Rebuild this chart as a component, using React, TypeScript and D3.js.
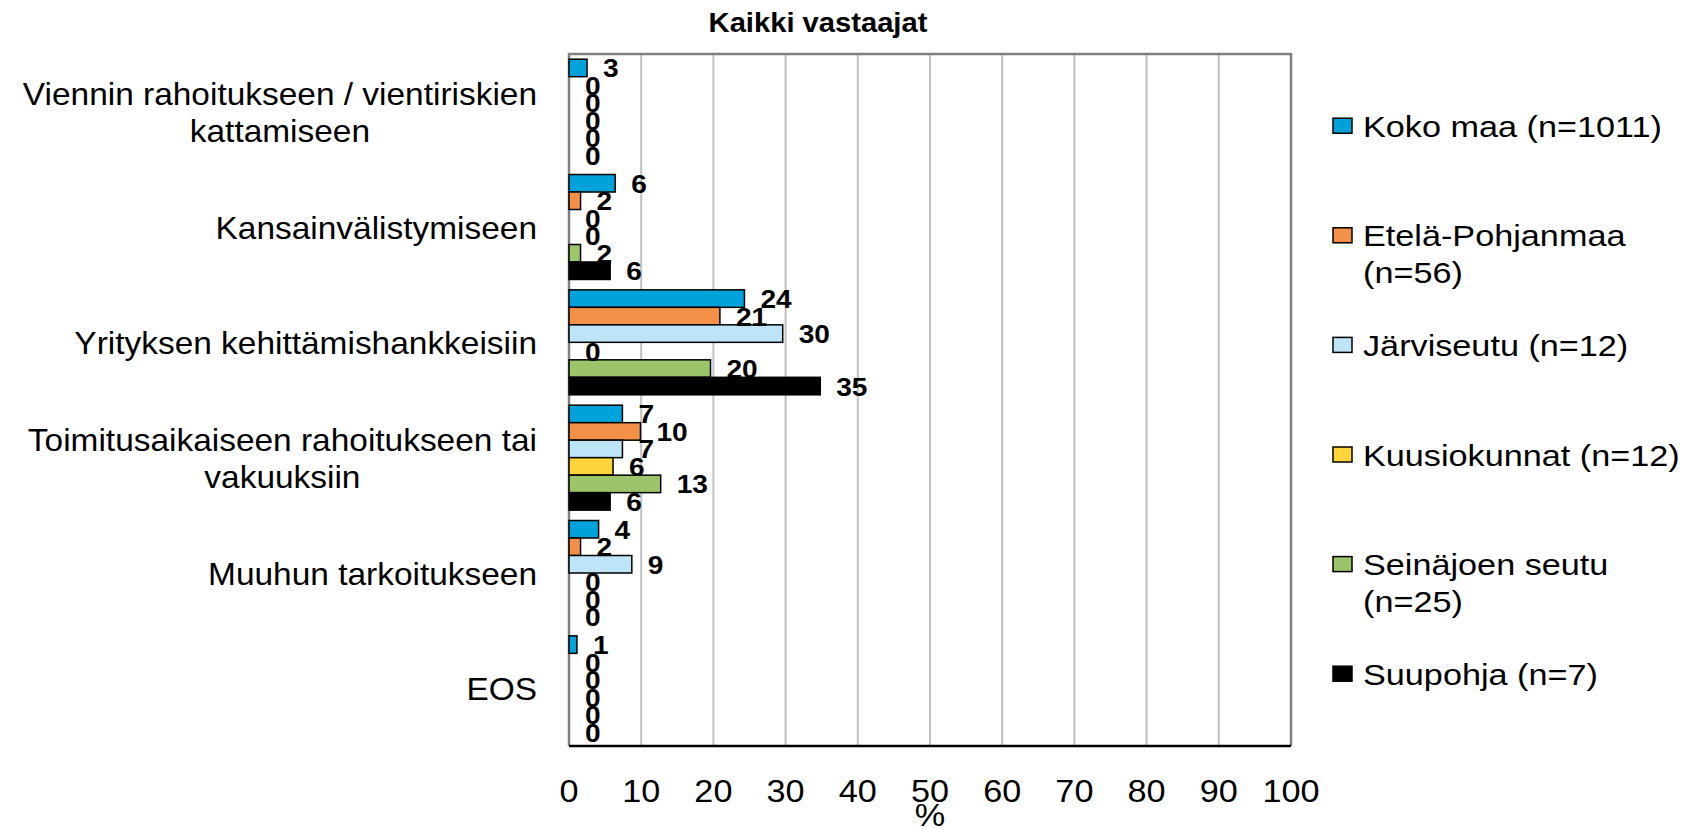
import React, { useEffect, useRef } from "react";
import * as d3 from "d3";

// chart data
const categories = [
  "Viennin rahoitukseen / vientiriskien|kattamiseen",
  "Kansainvälistymiseen",
  "Yrityksen kehittämishankkeisiin",
  "Toimitusaikaiseen rahoitukseen tai|vakuuksiin",
  "Muuhun tarkoitukseen",
  "EOS",
];
const seriesNames = [
  "Koko maa (n=1011)",
  "Etelä-Pohjanmaa|(n=56)",
  "Järviseutu (n=12)",
  "Kuusiokunnat (n=12)",
  "Seinäjoen seutu|(n=25)",
  "Suupohja (n=7)",
];
const kokoMaa = [2.5, 6.4, 24.3, 7.4, 4.1, 1.1];
const etelaPohjanmaa = [0, 1.6, 20.9, 9.9, 1.6, 0];
const jarviseutu = [0, 0, 29.6, 7.4, 8.7, 0];
const kuusiokunnat = [0, 0, 0, 6.1, 0, 0];
const seinajoenSeutu = [0, 1.6, 19.6, 12.7, 0, 0];
const suupohja = [0, 5.7, 34.8, 5.7, 0, 0];
const xTicks = [0, 10, 20, 30, 40, 50, 60, 70, 80, 90, 100];
const colors = ["#00A2DA", "#F29147", "#BDE4F7", "#FFD43A", "#9BC46B", "#000000"];

const FONT = "'Liberation Sans', Arial, sans-serif";

const App = () => {
  const svgRef = useRef<SVGSVGElement>(null);

  useEffect(() => {
    const width = 1696;
    const height = 829;
    const plot = { left: 569, right: 1291, top: 54, bottom: 746 };
    const series = [kokoMaa, etelaPohjanmaa, jarviseutu, kuusiokunnat, seinajoenSeutu, suupohja];
    const fmt = d3.format(".0f");

    const svg = d3.select(svgRef.current);
    svg.selectAll("*").remove();
    svg
      .attr("width", width)
      .attr("height", height)
      .attr("viewBox", [0, 0, width, height])
      .style("display", "block")
      .style("font-family", FONT);

    const x = d3.scaleLinear().domain([0, 100]).range([plot.left, plot.right]);
    const y = d3
      .scaleBand()
      .domain(categories)
      .range([plot.top, plot.bottom])
      .paddingInner(0.09)
      .paddingOuter(0.045);
    const ySeries = d3
      .scaleBand<number>()
      .domain(d3.range(seriesNames.length))
      .range([0, y.bandwidth()]);

    // stretched text helper
    const label = (g, tx, ty, sx, text) =>
      g
        .append("text")
        .attr("transform", `translate(${tx},${ty}) scale(${sx},1)`)
        .text(text);

    // title
    label(svg, 818, 32, 1.08, "Kaikki vastaajat")
      .attr("text-anchor", "middle")
      .style("font-size", "27px")
      .style("font-weight", "bold");

    // gridlines
    svg
      .append("g")
      .selectAll("line")
      .data(xTicks.slice(1, -1))
      .join("line")
      .attr("x1", (d) => x(d))
      .attr("x2", (d) => x(d))
      .attr("y1", plot.top)
      .attr("y2", plot.bottom)
      .attr("stroke", "#C0C0C0")
      .attr("stroke-width", 2);

    // frame
    svg
      .append("path")
      .attr("d", `M${plot.left},${plot.bottom}V${plot.top}H${plot.right}V${plot.bottom}`)
      .attr("fill", "none")
      .attr("stroke", "#808080")
      .attr("stroke-width", 2.5);
    svg
      .append("line")
      .attr("x1", plot.left)
      .attr("x2", plot.right)
      .attr("y1", plot.bottom)
      .attr("y2", plot.bottom)
      .attr("stroke", "#000")
      .attr("stroke-width", 2.5);

    // bars
    const groups = svg
      .append("g")
      .selectAll("g")
      .data(categories)
      .join("g")
      .attr("transform", (d) => `translate(0,${y(d)})`);

    groups
      .selectAll("rect")
      .data((_, ci) =>
        series.map((s, si) => ({ v: s[ci], si })).filter((d) => d.v > 0)
      )
      .join("rect")
      .attr("x", x(0))
      .attr("y", (d) => ySeries(d.si))
      .attr("width", (d) => x(d.v) - x(0))
      .attr("height", ySeries.bandwidth())
      .attr("fill", (d) => colors[d.si])
      .attr("stroke", "#000")
      .attr("stroke-width", 1.5);

    // data labels
    groups.each(function (_, ci) {
      const g = d3.select(this);
      series.forEach((s, si) => {
        label(
          g,
          x(s[ci]) + 16,
          ySeries(si) + ySeries.bandwidth() / 2 + 9.5,
          1.08,
          fmt(s[ci])
        )
          .style("font-size", "26px")
          .style("font-weight", "bold");
      });
    });

    // category labels
    const lineH = 36.7;
    categories.forEach((c) => {
      const lines = c.split("|");
      const cy = y(c) + y.bandwidth() / 2;
      const g = svg
        .append("g")
        .attr("transform", `translate(537,${cy}) scale(1.045,1)`)
        .style("font-size", "32px");
      const texts = lines.map((t, i) =>
        g
          .append("text")
          .attr("y", 12 + (i - (lines.length - 1) / 2) * lineH)
          .text(t)
      );
      const maxW = d3.max(texts, (t) => (t.node() as SVGTextElement).getComputedTextLength());
      texts.forEach((t) => t.attr("x", -maxW / 2).attr("text-anchor", "middle"));
    });

    // x axis tick labels
    xTicks.forEach((t) => {
      label(svg, x(t), 802, 1.07, String(t))
        .attr("text-anchor", "middle")
        .style("font-size", "32px");
    });
    label(svg, x(50), 826, 1.07, "%")
      .attr("text-anchor", "middle")
      .style("font-size", "32px");

    // legend
    const legend = svg.append("g");
    seriesNames.forEach((name, i) => {
      const base = 136.7 + i * 109.6;
      legend
        .append("rect")
        .attr("x", 1333)
        .attr("y", base - 18.5)
        .attr("width", 19)
        .attr("height", 15)
        .attr("fill", colors[i])
        .attr("stroke", "#000")
        .attr("stroke-width", 1.5);
      name.split("|").forEach((line, li) => {
        label(legend, 1363, base + li * 36.5, 1.16, line).style("font-size", "29.5px");
      });
    });
  }, []);

  return (
    <>
      <style>{`body{margin:0}`}</style>
      <svg ref={svgRef}></svg>
    </>
  );
};

export default App;
